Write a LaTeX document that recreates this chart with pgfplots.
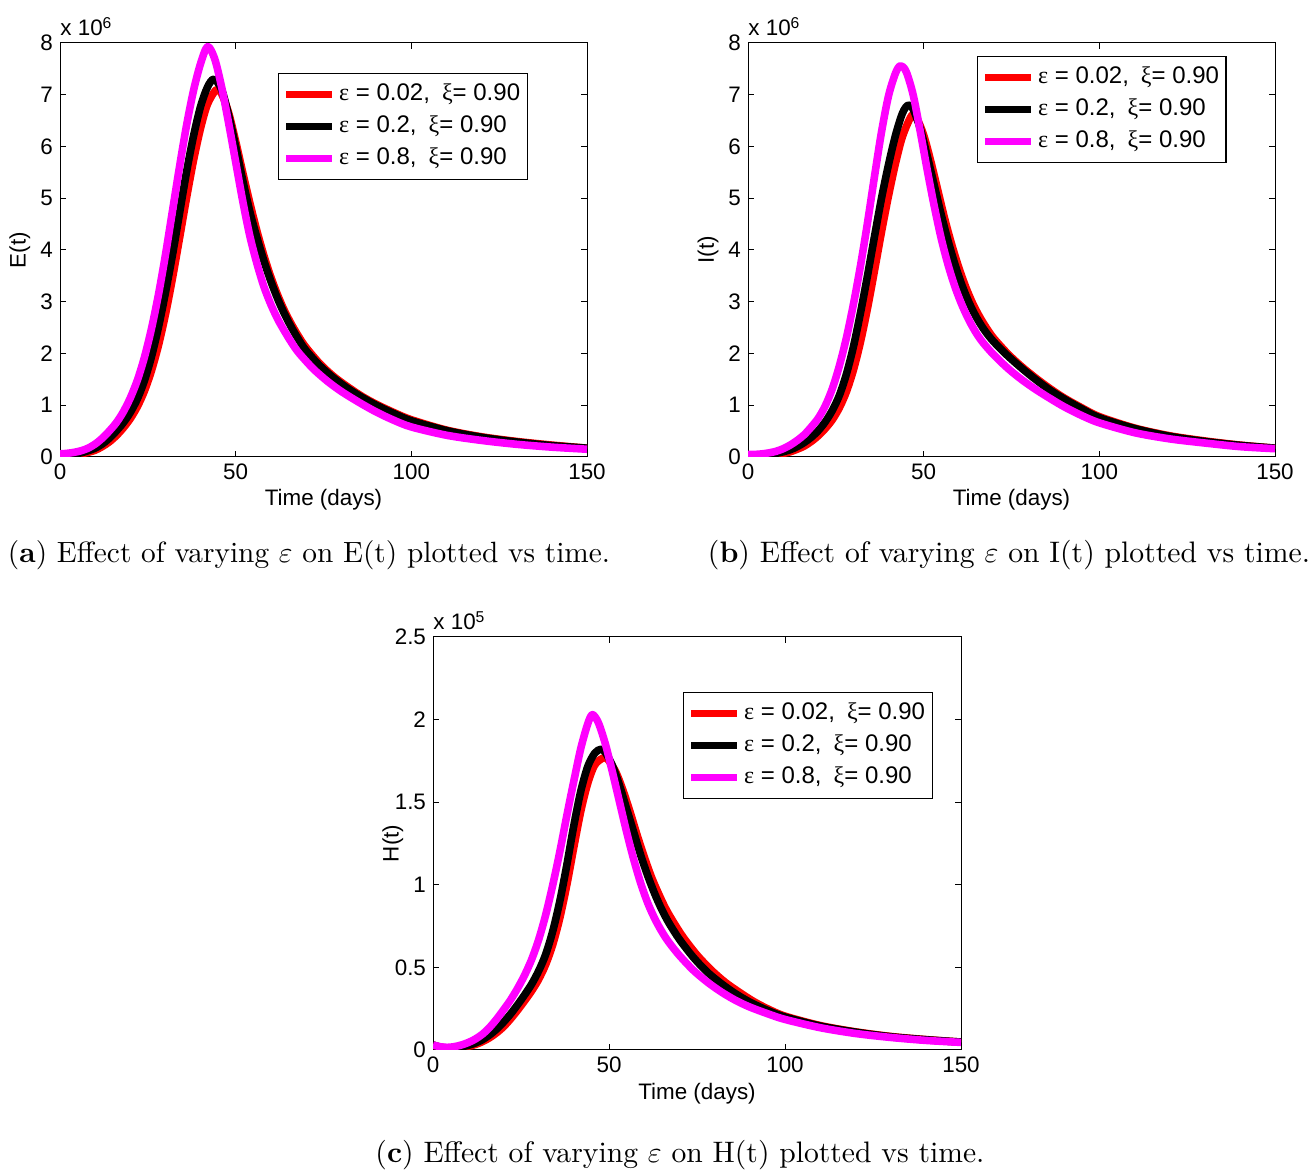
\documentclass[border=0pt]{standalone}
\usepackage{fontspec}
\usepackage{graphicx}
\usepackage{pgfplots}
\pgfplotsset{compat=1.18}
\newfontfamily\hv{Liberation Sans}
\newfontfamily\tm{Liberation Serif}
\definecolor{mag}{RGB}{255,0,255}
\newcommand{\axfont}{\hv\fontsize{11.2}{13}\selectfont}
\newcommand{\lgfont}{\hv\fontsize{12}{14}\selectfont}
\pgfplotsset{
  mystyle/.style={
    scale only axis, width=263.5pt, height=207pt,
    xmin=0, xmax=150, ymin=0,
    xtick={0,50,100,150},
    tick align=inside, major tick length=3pt,
    axis line style={line width=0.5pt},
    tick style={line width=0.5pt, black},
    font=\axfont,
    tick label style={font=\axfont},
    /pgf/number format/assume math mode=true,
    xlabel={Time (days)},
    xlabel style={at={(axis description cs:0.5,-0.104)}, anchor=center, font=\axfont},
    ylabel style={at={(axis description cs:-0.076,0.5)}, anchor=center, font=\axfont},
    legend cell align=left,
    legend style={draw=black, line width=0.6pt, font=\lgfont, anchor=north west,
      inner xsep=2pt, inner ysep=2.5pt, row sep=0pt,
      nodes={inner sep=1.5pt, text height=9.5pt, text depth=3.5pt}},
    legend image code/.code={\draw[#1, line width=3.8pt] (0pt,0pt) -- (23pt,0pt);},
    every axis plot/.append style={line width=3.8pt, smooth, line join=round},
    clip mode=individual,
  }
}
\newcommand{\entA}{{\tm ε} = 0.02,\hspace{6pt}{\tm ξ}= 0.90\hspace{3pt}}
\newcommand{\entB}{{\tm ε} = 0.2,\hspace{6pt}{\tm ξ}= 0.90\hspace{3pt}}
\newcommand{\entC}{{\tm ε} = 0.8,\hspace{6pt}{\tm ξ}= 0.90\hspace{3pt}}
\begin{document}
\begin{tikzpicture}
\useasboundingbox (0,0) rectangle (656pt,585.5pt);
% ---------------- (a) ----------------
\begin{axis}[mystyle, at={(30pt,357pt)}, anchor=south west,
  ymax=8, ytick={0,1,2,3,4,5,6,7,8}, ylabel={E(t)},
  legend style={at={(axis description cs:0.4137,0.9275)}}]
\addplot[red] coordinates {(0,0.05)(2,0.04)(4,0.04)(6,0.06)(8,0.09)(10,0.13)(12,0.2)(14,0.29)(16,0.41)(18,0.56)(20,0.74)(22,0.97)(24,1.27)(26,1.66)(28,2.15)(30,2.75)(32,3.45)(34,4.22)(36,5.0)(38,5.73)(40,6.35)(42,6.82)(44.5,7.1)(46,7.02)(48,6.65)(50,6.1)(52,5.5)(54,4.92)(56,4.38)(58,3.9)(60,3.48)(62,3.12)(64,2.81)(66,2.55)(68,2.32)(70,2.12)(74,1.8)(78,1.55)(82,1.35)(86,1.17)(90,1.02)(95,0.86)(100,0.72)(110,0.52)(120,0.39)(130,0.3)(140,0.23)(150,0.17)};
\addlegendentry{\entA}
\addplot[black] coordinates {(0,0.05)(2,0.05)(4,0.06)(6,0.08)(8,0.12)(10,0.17)(12,0.25)(14,0.36)(16,0.5)(18,0.66)(20,0.86)(22,1.12)(24,1.47)(26,1.93)(28,2.5)(30,3.17)(32,3.9)(34,4.7)(36,5.5)(38,6.2)(40,6.77)(42,7.15)(43.8,7.3)(46,7.1)(48,6.6)(50,6.0)(52,5.35)(54,4.75)(56,4.25)(58,3.8)(60,3.4)(62,3.05)(64,2.75)(66,2.49)(68,2.26)(70,2.06)(74,1.76)(78,1.52)(82,1.32)(86,1.15)(90,1.0)(95,0.84)(100,0.7)(110,0.51)(120,0.38)(130,0.29)(140,0.22)(150,0.17)};
\addlegendentry{\entB}
\addplot[mag] coordinates {(0,0.06)(2,0.07)(4,0.09)(6,0.12)(8,0.17)(10,0.25)(12,0.36)(14,0.5)(16,0.66)(18,0.87)(20,1.14)(22,1.48)(24,1.92)(26,2.47)(28,3.13)(30,3.9)(32,4.75)(34,5.6)(36,6.4)(38,7.08)(40,7.6)(42,7.93)(44,7.7)(46,7.15)(48,6.45)(50,5.7)(52,4.95)(54,4.28)(56,3.75)(58,3.3)(60,2.95)(62,2.66)(64,2.42)(66,2.2)(68,2.01)(72,1.71)(76,1.47)(80,1.27)(85,1.06)(90,0.87)(95,0.71)(100,0.58)(110,0.42)(120,0.32)(130,0.245)(140,0.19)(150,0.15)};
\addlegendentry{\entC}
\node[anchor=base west, inner sep=0pt, font=\axfont] at (axis description cs:0,1) [yshift=3.5pt] {x 10\textsuperscript{6}};
\end{axis}
% ---------------- (b) ----------------
\begin{axis}[mystyle, at={(374pt,357pt)}, anchor=south west,
  ymax=8, ytick={0,1,2,3,4,5,6,7,8}, ylabel={I(t)},
  legend style={at={(axis description cs:0.4345,0.9686)}}]
\addplot[red] coordinates {(0,0.04)(2,0.03)(4,0.03)(6,0.04)(8,0.05)(10,0.07)(12,0.1)(14,0.15)(16,0.21)(18,0.3)(20,0.41)(22,0.55)(24,0.72)(26,0.95)(28,1.26)(30,1.68)(32,2.22)(34,2.87)(36,3.6)(38,4.35)(40,5.05)(42,5.68)(44,6.2)(46.6,6.6)(48,6.55)(50,6.22)(52,5.72)(54,5.16)(56,4.6)(58,4.1)(60,3.66)(62,3.28)(64,2.96)(66,2.7)(68,2.48)(70,2.29)(74,1.99)(78,1.74)(82,1.52)(86,1.32)(90,1.14)(95,0.95)(100,0.78)(110,0.56)(120,0.41)(130,0.31)(140,0.23)(150,0.17)};
\addlegendentry{\entA}
\addplot[black] coordinates {(0,0.04)(2,0.04)(4,0.04)(6,0.05)(8,0.07)(10,0.1)(12,0.14)(14,0.2)(16,0.28)(18,0.38)(20,0.51)(22,0.68)(24,0.9)(26,1.19)(28,1.6)(30,2.13)(32,2.78)(34,3.5)(36,4.26)(38,5.0)(40,5.65)(42,6.22)(44,6.65)(45.6,6.8)(47,6.72)(49,6.35)(51,5.82)(53,5.25)(55,4.68)(57,4.16)(59,3.7)(61,3.3)(63,2.97)(65,2.7)(67,2.48)(69,2.3)(71,2.15)(74,1.95)(78,1.71)(82,1.49)(86,1.29)(90,1.12)(95,0.93)(100,0.76)(110,0.55)(120,0.4)(130,0.3)(140,0.225)(150,0.17)};
\addlegendentry{\entB}
\addplot[mag] coordinates {(0,0.05)(2,0.05)(4,0.06)(6,0.08)(8,0.11)(10,0.16)(12,0.23)(14,0.32)(16,0.43)(18,0.58)(20,0.75)(22,0.99)(24,1.32)(26,1.76)(28,2.3)(30,2.95)(32,3.69)(34,4.52)(36,5.42)(38,6.28)(40,6.98)(42,7.42)(43.4,7.56)(45,7.45)(47,7.0)(49,6.3)(51,5.55)(53,4.85)(55,4.22)(57,3.7)(59,3.27)(61,2.92)(63,2.63)(65,2.39)(67,2.2)(70,1.97)(74,1.71)(78,1.49)(82,1.3)(86,1.13)(90,0.97)(95,0.8)(100,0.66)(110,0.47)(120,0.35)(130,0.27)(140,0.2)(150,0.16)};
\addlegendentry{\entC}
\node[anchor=base west, inner sep=0pt, font=\axfont] at (axis description cs:0,1) [yshift=3.5pt] {x 10\textsuperscript{6}};
\end{axis}
% ---------------- (c) ----------------
\begin{axis}[mystyle, at={(216.5pt,60.5pt)}, anchor=south west,
  width=264pt, height=206.5pt,
  ymax=2.5, ytick={0,0.5,1,1.5,2,2.5}, ylabel={H(t)},
  xlabel style={at={(axis description cs:0.5,-0.1065)}},
  legend style={at={(axis description cs:0.4735,0.8668)}}]
\addplot[red] coordinates {(0,0.03)(2,0.017)(4,0.01)(6,0.01)(8,0.015)(10,0.022)(12,0.033)(14,0.05)(16,0.073)(18,0.103)(20,0.14)(22,0.187)(24,0.24)(26,0.297)(28,0.357)(30,0.427)(32,0.517)(34,0.637)(36,0.797)(38,0.997)(40,1.227)(42,1.447)(44,1.617)(46,1.727)(48.6,1.77)(50,1.75)(52,1.68)(54,1.57)(56,1.44)(58,1.3)(60,1.17)(62,1.05)(64,0.95)(66,0.86)(68,0.785)(71,0.685)(75,0.575)(79,0.485)(83,0.41)(87,0.35)(91,0.295)(95,0.25)(100,0.205)(110,0.148)(120,0.11)(130,0.082)(140,0.063)(150,0.048)};
\addlegendentry{\entA}
\addplot[black] coordinates {(0,0.03)(2,0.018)(4,0.012)(6,0.013)(8,0.019)(10,0.028)(12,0.042)(14,0.062)(16,0.09)(18,0.125)(20,0.168)(22,0.217)(24,0.273)(26,0.333)(28,0.398)(30,0.478)(32,0.578)(34,0.718)(36,0.898)(38,1.118)(40,1.358)(42,1.568)(44,1.718)(46,1.798)(47.7,1.82)(49,1.8)(51,1.72)(53,1.6)(55,1.46)(57,1.32)(59,1.18)(61,1.055)(63,0.945)(65,0.85)(67,0.77)(70,0.67)(74,0.56)(78,0.47)(82,0.4)(86,0.34)(90,0.29)(95,0.24)(100,0.2)(110,0.145)(120,0.108)(130,0.08)(140,0.062)(150,0.048)};
\addlegendentry{\entB}
\addplot[mag] coordinates {(0,0.03)(2,0.02)(4,0.016)(6,0.02)(8,0.03)(10,0.045)(12,0.066)(14,0.095)(16,0.135)(18,0.185)(20,0.242)(22,0.302)(24,0.372)(26,0.452)(28,0.547)(30,0.667)(32,0.817)(34,0.997)(36,1.197)(38,1.417)(40,1.627)(42,1.827)(44,1.977)(45.3,2.03)(47,1.98)(49,1.85)(51,1.68)(53,1.5)(55,1.32)(57,1.155)(59,1.01)(61,0.89)(63,0.795)(65,0.717)(67,0.652)(70,0.572)(74,0.482)(78,0.41)(82,0.35)(86,0.3)(90,0.26)(95,0.22)(100,0.185)(110,0.135)(120,0.1)(130,0.076)(140,0.058)(150,0.046)};
\addlegendentry{\entC}
\node[anchor=base west, inner sep=0pt, font=\axfont] at (axis description cs:0,1) [yshift=3.5pt] {x 10\textsuperscript{5}};
\end{axis}
% ---------------- captions ----------------
\node[anchor=base, inner sep=0pt] at (154.5pt,304pt) {\resizebox{301pt}{!}{(\textbf{a}) Effect of varying $\varepsilon$ on $\mathrm{E}(\mathrm{t})$ plotted vs time.}};
\node[anchor=base, inner sep=0pt] at (504.5pt,304pt) {\resizebox{301pt}{!}{(\textbf{b}) Effect of varying $\varepsilon$ on $\mathrm{I}(\mathrm{t})$ plotted vs time.}};
\node[anchor=base, inner sep=0pt] at (340pt,4pt) {\resizebox{304.5pt}{!}{(\textbf{c}) Effect of varying $\varepsilon$ on $\mathrm{H}(\mathrm{t})$ plotted vs time.}};
\end{tikzpicture}
\end{document}
